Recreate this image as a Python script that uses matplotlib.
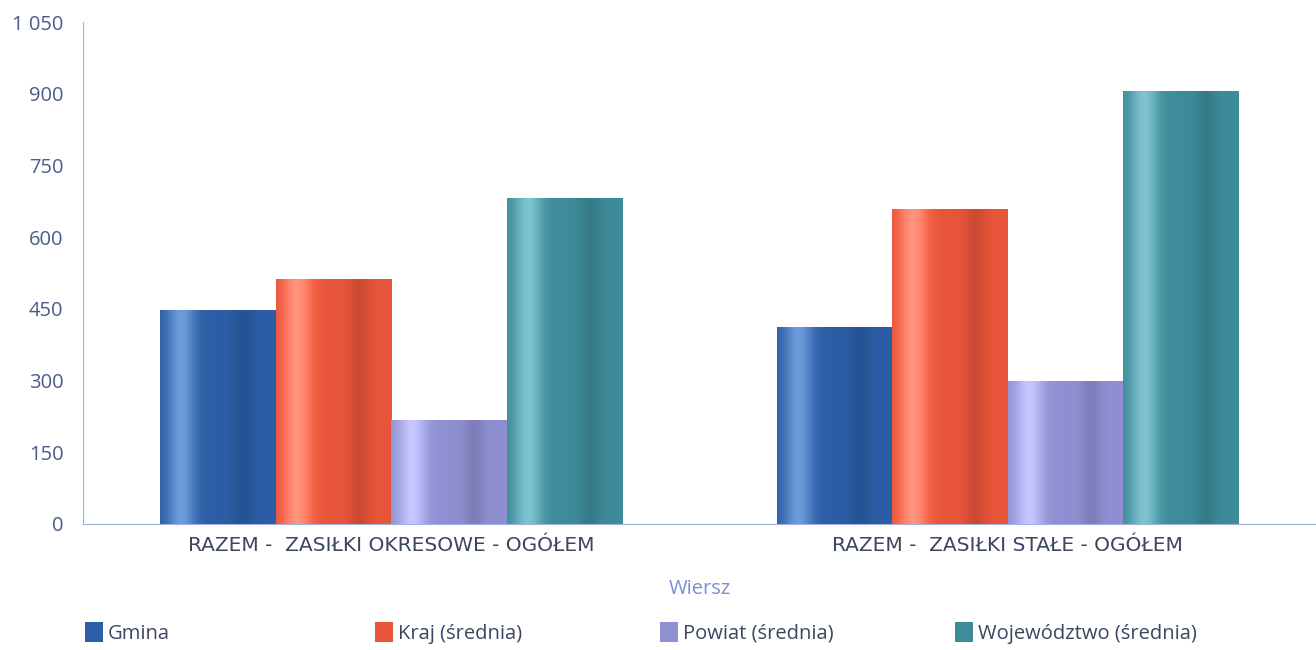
import numpy as np
import matplotlib
matplotlib.use("Agg")
import matplotlib.pyplot as plt
from matplotlib.colors import to_rgb
from matplotlib.patches import Rectangle
from matplotlib.ticker import FuncFormatter

plt.rcParams['font.family'] = ['Open Sans', 'DejaVu Sans']

categories = ['RAZEM -  ZASIŁKI OKRESOWE - OGÓŁEM', 'RAZEM -  ZASIŁKI STAŁE - OGÓŁEM']
series = ['Gmina', 'Kraj (średnia)', 'Powiat (średnia)', 'Województwo (średnia)']
gmina = [448, 413]
kraj = [512, 658]
powiat = [218, 300]
wojewodztwo = [681, 906]
colors = ['#2b5ea6', '#e8553a', '#8f90d2', '#3e8b9a']

values = [gmina, kraj, powiat, wojewodztwo]

fig = plt.figure(figsize=(13.16, 6.5), dpi=100)
ax = fig.add_axes([0.063, 0.194, 0.937, 0.772])

# shading profile across a bar (1 = base colour)
prof_x = np.linspace(0, 1, 80)
shade = 1 + 0.16 * np.exp(-((prof_x - 0.18) / 0.12) ** 2) - 0.12 * np.exp(-((prof_x - 0.72) / 0.09) ** 2)

width = 0.1875
x = np.arange(len(categories))
for i, (vals, col) in enumerate(zip(values, colors)):
    offs = x + (i - 1.5) * width
    bars = ax.bar(offs, vals, width, color=col, linewidth=0, zorder=2)
    base = np.array(to_rgb(col))
    lift = np.clip(shade - 1, 0, None)[:, None]
    img = np.clip(base[None, :] * np.minimum(shade, 1)[:, None] + lift * 1.8 * (1 - base[None, :]) + lift * base[None, :], 0, 1)
    for b in bars:
        im = ax.imshow(img[None, :, :], extent=[b.get_x(), b.get_x() + b.get_width(), 0, b.get_height()],
                       aspect='auto', zorder=3, interpolation='bilinear')
        im.set_clip_path(b)

ax.set_xlim(-0.5, 1.5)
ax.set_ylim(0, 1050)
ax.set_yticks(np.arange(0, 1051, 150))
ax.yaxis.set_major_formatter(FuncFormatter(lambda v, p: f'{int(v):,}'.replace(',', ' ')))
ax.set_xticks(x)
ax.set_xticklabels(categories, fontsize=14.5, color='#3c4660', family='DejaVu Sans')
ax.tick_params(axis='y', labelsize=14.5, colors='#4d5a8c', length=0, pad=14)
ax.tick_params(axis='x', length=0, pad=9)

for s in ['top', 'right']:
    ax.spines[s].set_visible(False)
ax.spines['left'].set_color('#9fb1dc')
ax.spines['bottom'].set_color('#9fb1dc')

ax.set_xlabel('Wiersz', fontsize=14.5, color='#7a90d4', labelpad=17)

# legend entries placed at fixed figure positions
leg_x = [85, 375, 660, 955]
for px, name, col in zip(leg_x, series, colors):
    fx = px / 1316
    fig.patches.append(Rectangle((fx, 0.012), 18 / 1316, 0.031, transform=fig.transFigure,
                                 facecolor=col, edgecolor='none'))
    fig.text(fx + 23 / 1316, 0.025, name, fontsize=14.5, color='#3c4660', va='center', ha='left')

fig.savefig('out.png', dpi=100)
